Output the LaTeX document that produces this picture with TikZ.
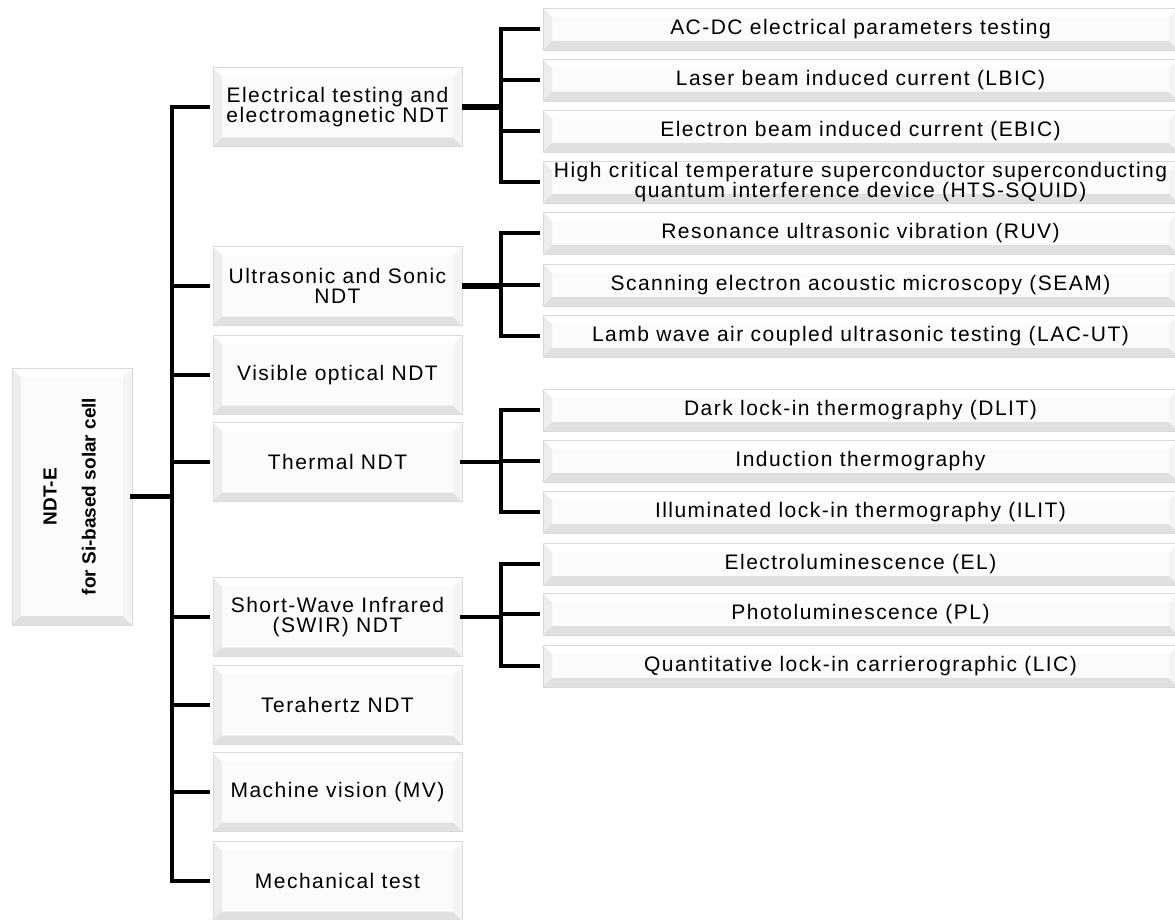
\documentclass[tikz,border=0pt]{standalone}
\usepackage{graphicx}
\usepackage{fontspec}
\setmainfont[LetterSpace=7]{Liberation Sans}
\newfontfamily\rootfont{Liberation Sans}
\usetikzlibrary{positioning}

\tikzset{
  bevel/.style={draw=gray!30, line width=0.6pt, fill=gray!3, inner sep=0pt, align=center,
    path picture={
      \path (path picture bounding box.south west) coordinate (bsw)
            (path picture bounding box.north east) coordinate (bne)
            (bsw -| bne) coordinate (bse)
            (bsw |- bne) coordinate (bnw);
      \fill[gray!14] (bsw) -- (bnw) -- ([shift={(9pt,-9pt)}]bnw) -- ([shift={(9pt,9pt)}]bsw) -- cycle;
      \fill[gray!24] (bsw) -- (bse) -- ([shift={(-9pt,9pt)}]bse) -- ([shift={(9pt,9pt)}]bsw) -- cycle;
      \fill[gray!9] (bse) -- (bne) -- ([shift={(-9pt,-9pt)}]bne) -- ([shift={(-9pt,9pt)}]bse) -- cycle;
      \fill[white] (bnw) -- (bne) -- ([shift={(-9pt,-9pt)}]bne) -- ([shift={(9pt,-9pt)}]bnw) -- cycle;
    }},
  midbox/.style={bevel, minimum width=249pt, minimum height=79pt, font=\fontsize{21}{20}\selectfont},
  subbox/.style={bevel, minimum width=635pt, minimum height=42pt, font=\fontsize{21}{18.5}\selectfont},
  wire/.style={line width=4.5pt, line cap=rect},
  heavy/.style={line width=6pt}
}

\begin{document}
\begin{tikzpicture}[x=1pt, y=-1pt]
  \useasboundingbox (0,0) rectangle (1175,920);
  % root
  \node[bevel, minimum width=120pt, minimum height=257pt] (root) at (72,496.5)
    {\rotatebox{90}{\rootfont\bfseries\fontsize{19}{20}\selectfont
      \begin{tabular}{@{}c@{}}NDT-E\\[19pt]for Si-based solar cell\end{tabular}}};
  % techniques
  \node[midbox] (elec)  at (337.5,107) {Electrical testing and\\electromagnetic NDT};
  \node[midbox] (ultra) at (337.5,286) {Ultrasonic and Sonic\\NDT};
  \node[midbox] (visib) at (337.5,375) {Visible optical NDT};
  \node[midbox] (therm) at (337.5,462) {Thermal NDT};
  \node[midbox] (swir)  at (337.5,617) {Short-Wave Infrared\\(SWIR) NDT};
  \node[midbox] (thz)   at (337.5,705) {Terahertz NDT};
  \node[midbox] (mv)    at (337.5,792) {Machine vision (MV)};
  \node[midbox] (mech)  at (337.5,881) {Mechanical test};
  % methods
  \node[subbox] (acdc)  at (860.5,29)  {AC-DC electrical parameters testing};
  \node[subbox] (lbic)  at (860.5,80)  {Laser beam induced current (LBIC)};
  \node[subbox] (ebic)  at (860.5,131) {Electron beam induced current (EBIC)};
  \node[subbox] (hts)   at (860.5,182) {High critical temperature superconductor superconducting\\quantum interference device (HTS-SQUID)};
  \node[subbox] (ruv)   at (860.5,233) {Resonance ultrasonic vibration (RUV)};
  \node[subbox] (seam)  at (860.5,285) {Scanning electron acoustic microscopy (SEAM)};
  \node[subbox] (lacut) at (860.5,336) {Lamb wave air coupled ultrasonic testing (LAC-UT)};
  \node[subbox] (dlit)  at (860.5,410) {Dark lock-in thermography (DLIT)};
  \node[subbox] (induc) at (860.5,461) {Induction thermography};
  \node[subbox] (ilit)  at (860.5,512) {Illuminated lock-in thermography (ILIT)};
  \node[subbox] (el)    at (860.5,564) {Electroluminescence (EL)};
  \node[subbox] (pl)    at (860.5,614) {Photoluminescence (PL)};
  \node[subbox] (lic)   at (860.5,666) {Quantitative lock-in carrierographic (LIC)};

  % trunk
  \coordinate (trunk) at (172,0);
  \coordinate (fork) at (501,0);
  \draw[wire] (root.east) -- (root.east -| trunk);
  \draw[wire] (elec.west -| trunk) -- (mech.west -| trunk);
  \foreach \t in {elec,ultra,visib,therm,swir,thz,mv,mech}
    \draw[wire] (\t.west -| trunk) -- ([xshift=-5pt]\t.west);
  % forks
  \foreach \t/\first/\last/\w in {elec/acdc/hts/heavy, ultra/ruv/lacut/heavy, therm/dlit/ilit/wire, swir/el/lic/wire}{
    \draw[wire] (\first.west -| fork) -- (\last.west -| fork);
    \draw[\w] (\t.east) -- (\t.east -| fork);
  }
  \foreach \s in {acdc,lbic,ebic,hts,ruv,seam,lacut,dlit,induc,ilit,el,pl,lic}
    \draw[wire] (\s.west -| fork) -- ([xshift=-5pt]\s.west);
\end{tikzpicture}
\end{document}
